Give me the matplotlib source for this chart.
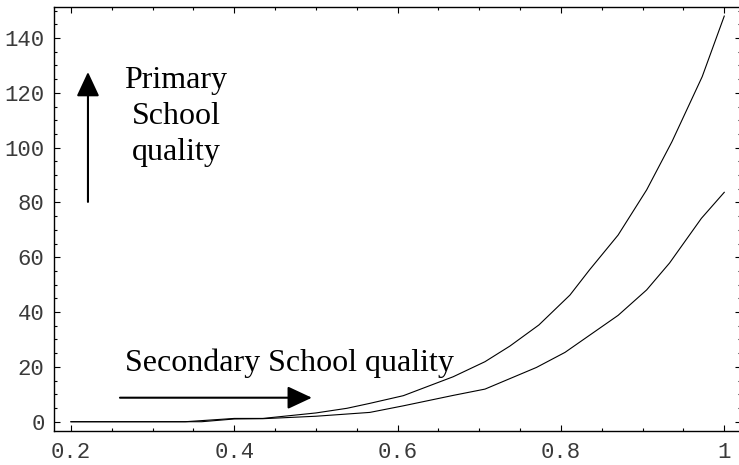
import matplotlib
matplotlib.use("Agg")
import matplotlib.pyplot as plt
from matplotlib.ticker import MultipleLocator

x_upper = [0.2, 0.34, 0.40, 0.435, 0.50, 0.538, 0.566, 0.607, 0.668, 0.707,
           0.7375, 0.773, 0.811, 0.835, 0.870, 0.905, 0.936, 0.973, 1.0]
y_upper = [0, 0, 1.2, 1.2, 3.2, 4.9, 6.7, 9.5, 16.4, 21.9,
           27.6, 35.3, 46.2, 55.4, 68.1, 84.6, 102.2, 125.9, 148]

x_lower = [0.2, 0.36, 0.40, 0.435, 0.50, 0.566, 0.607, 0.668, 0.707,
           0.770, 0.805, 0.870, 0.905, 0.933, 0.972, 1.0]
y_lower = [0, 0, 1.0, 1.1, 2.0, 3.4, 5.8, 9.6, 11.9,
           19.8, 25.3, 38.8, 48.1, 57.9, 74.2, 83.7]

x_ticks = [0.2, 0.4, 0.6, 0.8, 1.0]
x_labels = ["0.2", "0.4", "0.6", "0.8", "1"]
y_ticks = [0, 20, 40, 60, 80, 100, 120, 140]

fig = plt.figure(figsize=(7.39, 4.65), dpi=100)
# right frame edge sits just past the picture edge, as in the reference
ax = fig.add_axes([0.0735, 0.0731, 0.9292, 0.9112])

ax.plot(x_upper, y_upper, color="black", lw=0.8)
ax.plot(x_lower, y_lower, color="black", lw=0.8)

ax.set_xlim(0.1796, 1.0205)
ax.set_ylim(-3.39, 151.2)

ax.set_xticks(x_ticks)
ax.set_xticklabels(x_labels)
ax.set_yticks(y_ticks)
ax.xaxis.set_minor_locator(MultipleLocator(0.05))
ax.yaxis.set_minor_locator(MultipleLocator(5))
ax.tick_params(which="both", direction="in", top=True, right=True,
               width=0.8, colors="black", labelcolor="#3a3a3a")
ax.tick_params(which="major", length=4)
ax.tick_params(which="minor", length=2.5)
ax.tick_params(axis="x", pad=8)
ax.tick_params(axis="y", pad=7)
for lab in ax.get_xticklabels() + ax.get_yticklabels():
    lab.set_fontfamily("Liberation Mono")
    lab.set_fontsize(16)
for sp in ax.spines.values():
    sp.set_linewidth(1.0)

serif = "Liberation Serif"
ax.text(0.3286, 95.5, "Primary\nSchool\nquality", ha="center", va="baseline",
        family=serif, fontsize=23, linespacing=1.32)
ax.text(0.2661, 18.5, "Secondary School quality", ha="left", va="baseline",
        family=serif, fontsize=23)

arrow = dict(arrowstyle="-|>,head_length=1.5,head_width=0.7", color="black",
             lw=1.5, shrinkA=0, shrinkB=0)
ax.annotate("", xy=(0.2208, 127.6), xytext=(0.2208, 80.2), arrowprops=arrow)
ax.annotate("", xy=(0.495, 8.76), xytext=(0.26, 8.76), arrowprops=arrow)

fig.savefig("out.png", dpi=100)
